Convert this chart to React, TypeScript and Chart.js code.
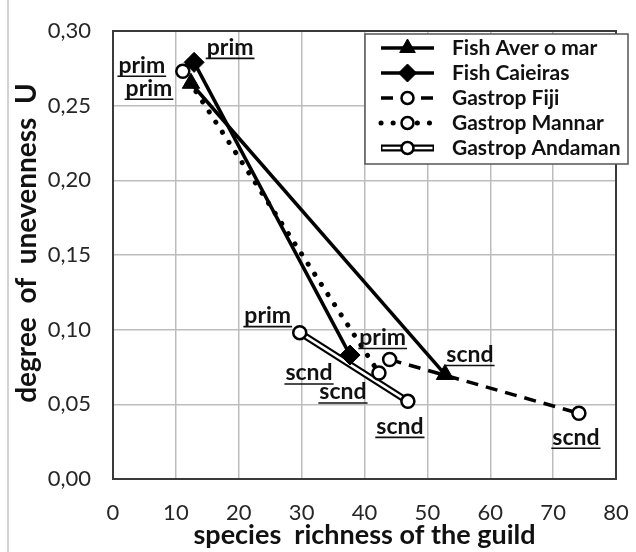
import React, { useEffect, useRef } from 'react';
import { Chart, registerables } from 'chart.js';

Chart.register(...registerables);

// ---- data ----
const seriesNames = ['Fish Aver o mar', 'Fish Caieiras', 'Gastrop Fiji', 'Gastrop Mannar', 'Gastrop Andaman'];
const stageLabels = ['prim', 'scnd'];

const averX = [12.4, 52.8];
const averY = [0.265, 0.07];
const caieirasX = [12.9, 37.7];
const caieirasY = [0.279, 0.083];
const fijiX = [44.0, 74.1];
const fijiY = [0.08, 0.044];
const mannarX = [11.1, 42.3];
const mannarY = [0.273, 0.071];
const andamanX = [29.7, 46.9];
const andamanY = [0.098, 0.052];

const xMin = 0, xMax = 80, xStep = 10;
const yMin = 0, yMax = 0.3, yStep = 0.05;

const xTitle = 'species  richness of the guild';
const yTitle = 'degree  of  unevenness  U';

const FONT = 'Lato, "Open Sans", sans-serif';
const INK = '#111111';

// pixel offsets of the prim / scnd labels from their points (layout, not data)
const labelOffsets: number[][][] = [
  [[-42, 5], [25, -20]],   // Aver o mar
  [[36, -15], [-41, 18]],  // Caieiras
  [[-7, -22], [-3, 24]],   // Fiji
  [[-41, -6], [-36, 19]],  // Mannar
  [[-32, -17], [-8, 25]],  // Andaman
];

function pts(xs: number[], ys: number[]) {
  return xs.map((x, i) => ({ x, y: ys[i] }));
}

function drawMarker(ctx: CanvasRenderingContext2D, style: string, x: number, y: number, r: number, fill: string, stroke: string, bw: number) {
  ctx.save();
  ctx.setLineDash([]);
  ctx.beginPath();
  if (style === 'triangle') {
    for (let k = 0; k < 3; k++) {
      const a = -Math.PI / 2 + k * (2 * Math.PI / 3);
      const px = x + Math.cos(a) * r, py = y + Math.sin(a) * r;
      if (k === 0) ctx.moveTo(px, py); else ctx.lineTo(px, py);
    }
    ctx.closePath();
  } else if (style === 'rectRot') {
    ctx.moveTo(x, y - r); ctx.lineTo(x + r, y); ctx.lineTo(x, y + r); ctx.lineTo(x - r, y); ctx.closePath();
  } else {
    ctx.arc(x, y, r, 0, Math.PI * 2);
  }
  ctx.fillStyle = fill;
  ctx.fill();
  ctx.lineWidth = bw;
  ctx.strokeStyle = stroke;
  ctx.stroke();
  ctx.restore();
}

export default function App() {
  const ref = useRef<HTMLCanvasElement>(null);

  useEffect(() => {
    const canvas = ref.current!;
    const seriesData = [pts(averX, averY), pts(caieirasX, caieirasY), pts(fijiX, fijiY), pts(mannarX, mannarY), pts(andamanX, andamanY)];

    const base = { showLine: true, tension: 0, fill: false };
    const datasets: any[] = [
      { ...base, label: seriesNames[0], data: seriesData[0], borderColor: '#000', borderWidth: 3.5, pointStyle: 'triangle', pointRadius: 10, pointBackgroundColor: '#000', pointBorderColor: '#000', pointBorderWidth: 1, order: 1 },
      { ...base, label: seriesNames[1], data: seriesData[1], borderColor: '#000', borderWidth: 3.5, pointStyle: 'rectRot', pointRadius: 10, pointBackgroundColor: '#000', pointBorderColor: '#000', pointBorderWidth: 1, order: 0 },
      { ...base, label: seriesNames[2], data: seriesData[2], borderColor: '#000', borderWidth: 3.5, borderDash: [12, 8], pointStyle: 'circle', pointRadius: 6.5, pointBackgroundColor: '#fff', pointBorderColor: '#000', pointBorderWidth: 2.5, order: 2 },
      { ...base, label: seriesNames[3], data: seriesData[3], borderColor: '#000', borderWidth: 5, borderDash: [0.1, 12], borderCapStyle: 'round', pointStyle: 'circle', pointRadius: 6.5, pointBackgroundColor: '#fff', pointBorderColor: '#000', pointBorderWidth: 2.5, order: 3 },
      { ...base, label: seriesNames[4], data: seriesData[4], borderColor: '#fff', borderWidth: 2.5, pointStyle: 'circle', pointRadius: 6.5, pointBackgroundColor: '#fff', pointBorderColor: '#000', pointBorderWidth: 2.5, order: 4 },
      { ...base, label: seriesNames[4] + ' outline', data: seriesData[4], borderColor: '#000', borderWidth: 7, pointRadius: 0, order: 5 },
    ];

    const markerStyles = ['triangle', 'rectRot', 'circle', 'circle', 'circle'];

    const decor = {
      id: 'decor',
      beforeDatasetsDraw(chart: any) {
        const { ctx, chartArea: a } = chart;
        ctx.save();
        ctx.strokeStyle = '#3a3a3a';
        ctx.lineWidth = 2;
        ctx.strokeRect(a.left, a.top, a.right - a.left, a.bottom - a.top);
        ctx.restore();
      },
      afterDatasetsDraw(chart: any) {
        const { ctx } = chart;
        const xs = chart.scales.x, ys = chart.scales.y;
        ctx.save();
        ctx.font = `bold 23px ${FONT}`;
        ctx.fillStyle = INK;
        ctx.strokeStyle = INK;
        ctx.textAlign = 'center';
        ctx.textBaseline = 'middle';
        seriesData.forEach((d, si) => {
          d.forEach((p, pi) => {
            const px = xs.getPixelForValue(p.x) + labelOffsets[si][pi][0];
            const py = ys.getPixelForValue(p.y) + labelOffsets[si][pi][1];
            const t = stageLabels[pi];
            ctx.fillText(t, px, py);
            const w = ctx.measureText(t).width;
            ctx.lineWidth = 1.6;
            ctx.beginPath();
            ctx.moveTo(px - w / 2 - 1, py + 11);
            ctx.lineTo(px + w / 2 + 1, py + 11);
            ctx.stroke();
          });
        });
        ctx.restore();
      },
      afterDraw(chart: any) {
        const { ctx, chartArea: a } = chart;
        ctx.save();
        // outer figure edge on the left
        ctx.strokeStyle = '#c4c4c4';
        ctx.lineWidth = 1.5;
        ctx.beginPath();
        ctx.moveTo(8, 0);
        ctx.lineTo(8, 552);
        ctx.stroke();

        // axis titles
        ctx.fillStyle = INK;
        ctx.font = `bold 27px ${FONT}`;
        ctx.textAlign = 'center';
        ctx.textBaseline = 'middle';
        ctx.fillText(xTitle, (a.left + a.right) / 2, 535);
        ctx.save();
        ctx.translate(27, 243);
        ctx.rotate(-Math.PI / 2);
        ctx.font = `bold 28px ${FONT}`;
        ctx.fillText(yTitle, 0, 0);
        ctx.restore();

        // legend
        const bx = 365, by = 34, bw = 263, bh = 130;
        ctx.fillStyle = '#fff';
        ctx.fillRect(bx, by, bw, bh);
        ctx.strokeStyle = '#555';
        ctx.lineWidth = 1.5;
        ctx.strokeRect(bx, by, bw, bh);
        const lx0 = 381, lx1 = 434, mx = 407.5, tx = 452;
        seriesNames.forEach((name, i) => {
          const y = 48 + i * 25;
          const ds = datasets[i];
          ctx.save();
          if (i === 4) {
            ctx.strokeStyle = '#000'; ctx.lineWidth = 7;
            ctx.beginPath(); ctx.moveTo(lx0, y); ctx.lineTo(lx1, y); ctx.stroke();
            ctx.strokeStyle = '#fff'; ctx.lineWidth = 2.5;
            ctx.beginPath(); ctx.moveTo(lx0 + 1.5, y); ctx.lineTo(lx1 - 1.5, y); ctx.stroke();
          } else {
            ctx.strokeStyle = '#000';
            ctx.lineWidth = ds.borderWidth;
            ctx.setLineDash(ds.borderDash || []);
            ctx.lineCap = ds.borderCapStyle || 'butt';
            ctx.beginPath(); ctx.moveTo(lx0, y); ctx.lineTo(lx1, y); ctx.stroke();
          }
          ctx.restore();
          const st = markerStyles[i];
          drawMarker(ctx, st, mx, y, st === 'circle' ? 6 : 9, ds.pointBackgroundColor, '#000', ds.pointBorderWidth);
          ctx.fillStyle = INK;
          ctx.font = `bold 21px ${FONT}`;
          ctx.textAlign = 'left';
          ctx.textBaseline = 'middle';
          ctx.fillText(name, tx, y);
        });
        ctx.restore();
      },
    };

    const zeroPad = (s: any) => { s.paddingLeft = 0; s.paddingRight = 0; s.paddingTop = 0; s.paddingBottom = 0; };

    const chart = new Chart(canvas, {
      type: 'scatter',
      data: { datasets },
      options: {
        animation: false,
        responsive: true,
        maintainAspectRatio: false,
        layout: { padding: { top: 31, right: 20, bottom: 0, left: 0 } },
        plugins: { legend: { display: false }, tooltip: { enabled: false } },
        scales: {
          x: {
            type: 'linear', min: xMin, max: xMax,
            ticks: { stepSize: xStep, color: '#262626', font: { family: FONT, size: 22 }, padding: 21 },
            grid: { color: '#bdbdbd', lineWidth: 1.5, drawTicks: false },
            border: { display: false },
            afterFit: (s: any) => { s.height = 73; zeroPad(s); },
          },
          y: {
            type: 'linear', min: yMin, max: yMax,
            ticks: { stepSize: yStep, color: '#262626', font: { family: FONT, size: 22 }, padding: 22,
              callback: (v: any) => Number(v).toFixed(2).replace('.', ',') },
            grid: { color: '#bdbdbd', lineWidth: 1.5, drawTicks: false },
            border: { display: false },
            afterFit: (s: any) => { s.width = 113; zeroPad(s); },
          },
        },
      } as any,
      plugins: [decor],
    });
    return () => chart.destroy();
  }, []);

  return (
    <div style={{ position: 'fixed', left: 0, top: 0, width: 636, height: 552, background: '#fff' }}>
      <canvas ref={ref} />
    </div>
  );
}
